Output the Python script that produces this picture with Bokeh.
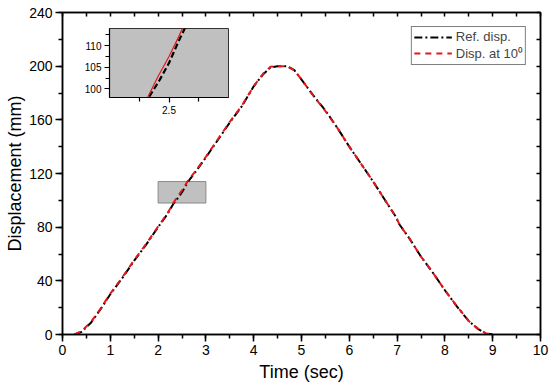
from bokeh.plotting import figure
from bokeh.models import (Range1d, SingleIntervalTicker, FixedTicker, LinearAxis,
                          Legend, LegendItem)
from bokeh.embed import file_html
from bokeh.resources import INLINE

# ---- data ----
time_ref = [0.25, 0.4, 0.6, 0.8, 1.0, 1.25, 1.5, 1.75, 2.0, 2.2, 2.33, 2.42, 2.5, 2.58, 2.65,
            2.8, 3.0, 3.25, 3.5, 3.75, 4.0, 4.2, 4.35, 4.5, 4.7, 4.85, 5.0, 5.25, 5.5, 5.75,
            6.0, 6.25, 6.5, 6.75, 6.97, 7.05, 7.25, 7.5, 7.75, 8.0, 8.25, 8.5, 8.7, 8.85, 9.0]
disp_ref = [0, 2, 9, 19, 30, 42, 55, 67, 80, 90, 98, 102, 106, 111, 115,
            122, 132, 145, 158, 170, 185, 194, 199, 200, 200, 197, 190, 178, 167, 154,
            140, 127, 114, 100, 88, 82, 72, 58, 46, 33, 21, 10, 4, 1, 0]
time_10 = [0.25, 0.4, 0.6, 0.8, 1.0, 1.25, 1.5, 1.75, 2.0, 2.2, 2.32, 2.41, 2.5, 2.58, 2.63,
           2.8, 3.0, 3.25, 3.5, 3.75, 4.0, 4.2, 4.35, 4.5, 4.7, 4.85, 5.0, 5.25, 5.5, 5.75,
           6.0, 6.25, 6.5, 6.75, 6.97, 7.05, 7.25, 7.5, 7.75, 8.0, 8.25, 8.5, 8.7, 8.85, 9.0]
disp_10 = [0, 2.5, 9.5, 19.5, 30.5, 42.5, 55.5, 67.5, 80.5, 90.5, 98, 103, 107.5, 112, 115,
           122.5, 132.5, 145.5, 158.5, 170.5, 185, 194.5, 199.5, 200, 200, 197, 190, 178, 166.5, 154,
           140, 127, 114, 100, 88, 82, 72, 58, 46, 33, 21, 10, 4, 1, 0]

x_range_main = (0, 10)
y_range_main = (0, 240)
top_ticks = [i * 0.5 for i in range(21)]
right_ticks = [i * 20 for i in range(13)]
inset_x = (2.0, 3.0)
inset_y = (98.0, 114.0)
inset_yticks = [100, 105, 110]
inset_yminor = [102.5, 107.5, 112.5]
inset_xticks = [2.5]
inset_xminor = [2.25, 2.75]

FONT = "Liberation Sans"
FW, FH = 478, 322
BL, BT = 62, 12

p = figure(frame_width=FW, frame_height=FH, min_border_left=BL, min_border_right=9,
           min_border_top=BT, min_border_bottom=53,
           x_range=Range1d(*x_range_main), y_range=Range1d(*y_range_main),
           output_backend="svg", toolbar_location=None)
p.xgrid.visible = False
p.ygrid.visible = False
p.outline_line_color = "black"
p.outline_line_width = 1.5

p.xaxis.ticker = SingleIntervalTicker(interval=1, num_minor_ticks=2)
p.yaxis.ticker = SingleIntervalTicker(interval=40, num_minor_ticks=2)
for ax in (p.xaxis[0], p.yaxis[0]):
    ax.axis_line_width = 1.5
    ax.major_tick_line_width = 1.5
    ax.minor_tick_line_width = 1.5
    ax.major_tick_out = 7
    ax.major_tick_in = 0
    ax.minor_tick_out = 4
    ax.minor_tick_in = 0
    ax.major_label_text_font = FONT
    ax.major_label_text_font_size = "14px"
    ax.major_label_text_color = "black"
    ax.axis_label_text_font = FONT
    ax.axis_label_text_font_size = "18px"
    ax.axis_label_text_font_style = "normal"
    ax.axis_label_text_color = "black"
    ax.major_label_standoff = 3
    ax.axis_label_standoff = 4
p.yaxis.axis_label_standoff = 1
p.xaxis.axis_label = "Time (sec)"
p.yaxis.axis_label = "Displacement (mm)"

# mirrored top/right axes with inward ticks only (minor-only tickers -> no labels)
top = LinearAxis(ticker=FixedTicker(ticks=[], minor_ticks=top_ticks))
right = LinearAxis(ticker=FixedTicker(ticks=[], minor_ticks=right_ticks))
for ax in (top, right):
    ax.minor_tick_in = 4
    ax.minor_tick_out = 0
    ax.major_tick_in = 0
    ax.major_tick_out = 0
    ax.minor_tick_line_width = 1.5
    ax.axis_line_width = 1.5
p.add_layout(top, "above")
p.add_layout(right, "right")

# zoom region box
p.quad(left=[inset_x[0]], right=[inset_x[1]], bottom=[inset_y[0]], top=[inset_y[1]],
       fill_color="#c0c0c0", line_color="#8a8a8a", line_width=1)

r1 = p.line(time_ref, disp_ref, line_color="black", line_width=2, line_dash="8 3 2 3")
r2 = p.line(time_10, disp_10, line_color="#e8161b", line_width=2, line_dash="6 5")

legend = Legend(items=[LegendItem(label="Ref. disp.", renderers=[r1]),
                       LegendItem(label="Disp. at 10\u2070", renderers=[r2])],
                location="top_right")
legend.label_text_font = FONT
legend.label_text_font_size = "13px"
legend.border_line_color = "black"
legend.border_line_width = 1
legend.margin = 14
legend.padding = 2
legend.spacing = 0
legend.glyph_width = 38
legend.label_standoff = 4
legend.label_height = 12
legend.glyph_height = 12
p.add_layout(legend)

# ---- inset ----
IBL, IBT, IBR, IBB = 28, 2, 2, 22
ifw, ifh = 119, 69
inset = figure(width=IBL + ifw + IBR, height=IBT + ifh + IBB,
               min_border_left=IBL, min_border_bottom=IBB,
               min_border_top=IBT, min_border_right=IBR,
               x_range=Range1d(*inset_x), y_range=Range1d(*inset_y),
               output_backend="svg", toolbar_location=None)
inset.xgrid.visible = False
inset.ygrid.visible = False
inset.background_fill_color = "#c0c0c0"
inset.border_fill_alpha = 0
inset.outline_line_color = "#333333"
inset.outline_line_width = 1
inset.xaxis.ticker = FixedTicker(ticks=inset_xticks, minor_ticks=inset_xminor)
inset.yaxis.ticker = FixedTicker(ticks=inset_yticks, minor_ticks=inset_yminor)
for ax in (inset.xaxis[0], inset.yaxis[0]):
    ax.axis_line_width = 1.2
    ax.major_tick_out = 5
    ax.major_tick_in = 0
    ax.minor_tick_out = 4
    ax.minor_tick_in = 0
    ax.major_tick_line_width = 1.2
    ax.minor_tick_line_width = 1.2
    ax.major_label_text_font = FONT
    ax.major_label_text_font_size = "10px"
    ax.major_label_text_color = "black"
    ax.major_label_standoff = 3
inset.line(time_ref, disp_ref, line_color="black", line_width=2.2, line_dash="6 3")
inset.line(time_10, disp_10, line_color="#e8161b", line_width=1.2)

# position inset frame relative to main frame (page origin = main figure origin)
fx0 = BL + 0.985 * FW / 10
fy0 = BT + 0.05 * FH
inset.styles = {"position": "absolute", "left": f"{fx0 - IBL:.0f}px", "top": f"{fy0 - IBT:.0f}px",
                "z-index": "10"}

open("out.html", "w").write(file_html([p, inset], INLINE))
